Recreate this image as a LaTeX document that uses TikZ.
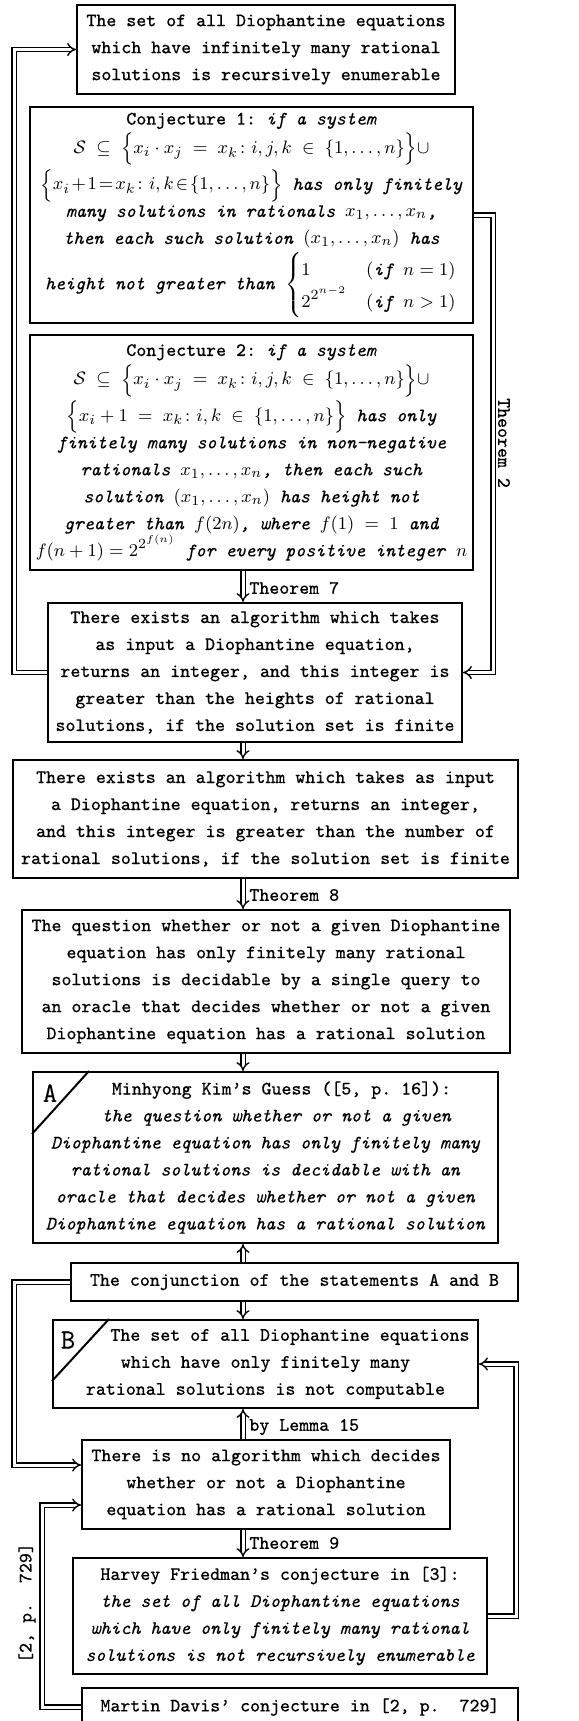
\documentclass[tikz,border=0pt]{standalone}
\usepackage{amsmath}
\usepackage{fontspec}
\setmonofont{Latin Modern Mono}[FakeBold=0.3]
\usetikzlibrary{arrows.meta}

\begin{document}
\begin{tikzpicture}[x=0.5pt, y=-0.5pt,
    box/.style={draw, line width=1pt, align=center, inner sep=0pt, font=\ttfamily\fontsize{9.5pt}{13.5pt}\selectfont},
    lbl/.style={font=\ttfamily\fontsize{9.5pt}{13.5pt}\selectfont, inner sep=0pt},
    tag/.style={font=\ttfamily\fontsize{14pt}{14pt}\selectfont, inner sep=0pt},
    dbl/.style={double, double distance=1.5pt, line width=0.7pt, -{Implies[scale=1.3]}}]
    \useasboundingbox (0,0) rectangle (579,1721);
    \coordinate (mid) at (243,0);

    % 1. the boxes
    \node[box, minimum width=189pt, minimum height=44.5pt] (setinf) at (266,49.5)
        {The set of all Diophantine equations\\which have infinitely many rational\\solutions is recursively enumerable};
    \node[box, minimum width=221.5pt, minimum height=108pt] (conjone) at (251.5,215)
        {Conjecture 1: \textit{if a system}\\[1pt]
         $\mathcal{S}\;\subseteq\;\Bigl\{x_i\cdot x_j\;=\;x_k\colon i,j,k\;\in\;\{1,\ldots,n\}\Bigr\}\cup$\\[1pt]
         $\thickmuskip=2mu\medmuskip=1.5mu\Bigl\{x_i+1=x_k\colon i,k\in\{1,\ldots,n\}\Bigr\}$ \textit{has only finitely}\\
         \textit{many solutions in rationals} $x_1,\ldots,x_n$\textit{,}\\
         \textit{then each such solution} $(x_1,\ldots,x_n)$ \textit{has}\\[1pt]
         \textit{height not greater than} $\begin{cases}1 & (\textit{if}\ n=1)\\ 2^{2^{n-2}} & (\textit{if}\ n>1)\end{cases}$};
    \node[box, minimum width=221.5pt, minimum height=117.5pt] (conjtwo) at (251.5,452.5)
        {Conjecture 2: \textit{if a system}\\[1pt]
         $\mathcal{S}\;\subseteq\;\Bigl\{x_i\cdot x_j\;=\;x_k\colon i,j,k\;\in\;\{1,\ldots,n\}\Bigr\}\cup$\\[1pt]
         $\Bigl\{x_i+1\;=\;x_k\colon i,k\;\in\;\{1,\ldots,n\}\Bigr\}$ \textit{has only}\\
         \textit{finitely many solutions in non-negative}\\
         \textit{rationals} $x_1,\ldots,x_n$\textit{, then each such}\\
         \textit{solution} $(x_1,\ldots,x_n)$ \textit{has height not}\\
         \textit{greater than} $f(2n)$\textit{, where} $f(1)\;=\;1$ \textit{and}\\
         $f(n+1)=2^{2^{f(n)}}$ \textit{for every positive integer} $n$};
    \node[box, minimum width=207pt, minimum height=69.5pt] (heights) at (255,672.5)
        {There exists an algorithm which takes\\as input a Diophantine equation,\\returns an integer, and this integer is\\greater than the heights of rational\\solutions, if the solution set is finite};
    \node[box, minimum width=252.5pt, minimum height=59pt] (number) at (265.5,819)
        {There exists an algorithm which takes as input\\a Diophantine equation, returns an integer,\\and this integer is greater than the number of\\rational solutions, if the solution set is finite};
    \node[box, minimum width=244pt, minimum height=71.5pt] (query) at (266,981.5)
        {The question whether or not a given Diophantine\\equation has only finitely many rational\\solutions is decidable by a single query to\\an oracle that decides whether or not a given\\Diophantine equation has a rational solution};
    \node[box, minimum width=232.5pt, minimum height=85.5pt] (kim) at (265.5,1157.5)
        {\hspace*{16pt}Minhyong Kim’s Guess ([5, p. 16]):\\
         \hspace*{11pt}\textit{the question whether or not a given}\\
         \textit{Diophantine equation has only finitely many}\\
         \textit{rational solutions is decidable with an}\\
         \textit{oracle that decides whether or not a given}\\
         \textit{Diophantine equation has a rational solution}};
    \node[box, minimum width=223.5pt, minimum height=19pt] (conj) at (294.5,1282)
        {The conjunction of the statements A and B};
    \node[box, minimum width=212.5pt, minimum height=44pt] (notcomp) at (265.5,1364)
        {\hspace*{24.5pt}The set of all Diophantine equations\\which have only finitely many\\rational solutions is not computable};
    \node[box, minimum width=184pt, minimum height=44.5pt] (noalg) at (266,1484.5)
        {There is no algorithm which decides\\whether or not a Diophantine\\equation has a rational solution};
    \node[box, minimum width=207pt, minimum height=58pt] (harvey) at (280,1616)
        {Harvey Friedman’s conjecture in [3]:\\
         \textit{the set of all Diophantine equations}\\
         \textit{which have only finitely many rational}\\
         \textit{solutions is not recursively enumerable}};
    \node[box, minimum width=218pt, minimum height=19pt] (davis) at (300,1707)
        {Martin Davis’ conjecture in [2, p.~~729]};

    % 2. corner marks A and B
    \draw[line width=1pt] ([xshift=28.5pt]kim.north west) -- ([yshift=-31.5pt]kim.north west);
    \node[tag] (tagA) at (50,1093) {A};
    \draw[line width=1pt] ([xshift=28.5pt]notcomp.north west) -- ([yshift=-31pt]notcomp.north west);
    \node[tag] (tagB) at (68,1340) {B};

    % 3. implications
    \draw[dbl] (conjtwo.south -| mid) -- (heights.north -| mid);
    \draw[dbl] (heights.south -| mid) -- (number.north -| mid);
    \draw[dbl] (number.south -| mid) -- (query.north -| mid);
    \draw[dbl] (query.south -| mid) -- (kim.north -| mid);
    \draw[dbl] (conj.north -| mid) -- (kim.south -| mid);
    \draw[dbl] (conj.south -| mid) -- (notcomp.north -| mid);
    \draw[dbl] (noalg.north -| mid) -- (notcomp.south -| mid);
    \draw[dbl] (noalg.south -| mid) -- (harvey.north -| mid);
    \draw[dbl] (heights.west) -- ++(-33,0) |- (setinf.west);
    \draw[dbl] (conjone.east) -- ++(19,0) |- (heights.east);
    \draw[dbl] (conj.west) -- ++(-56,0) |- ([yshift=9.75pt]noalg.west);
    \draw[dbl] (harvey.east) -- ++(28,0) |- (notcomp.east);
    \draw[dbl] (davis.west) -- ++(-39,0) |- ([yshift=-10.25pt]noalg.west);

    % 4. labels
    \node[lbl, anchor=west] (thmseven) at (249,588) {Theorem 7};
    \node[lbl, anchor=west] (thmeight) at (249,895) {Theorem 8};
    \node[lbl, anchor=west] (lemma) at (249,1427) {by Lemma 15};
    \node[lbl, anchor=west] (thmnine) at (249,1543) {Theorem 9};
    \node[lbl, rotate=-90] (thmtwo) at (504,443) {Theorem 2};
    \node[lbl, rotate=90] (davisref) at (27,1603) {[2, p.~~729]};
\end{tikzpicture}
\end{document}
